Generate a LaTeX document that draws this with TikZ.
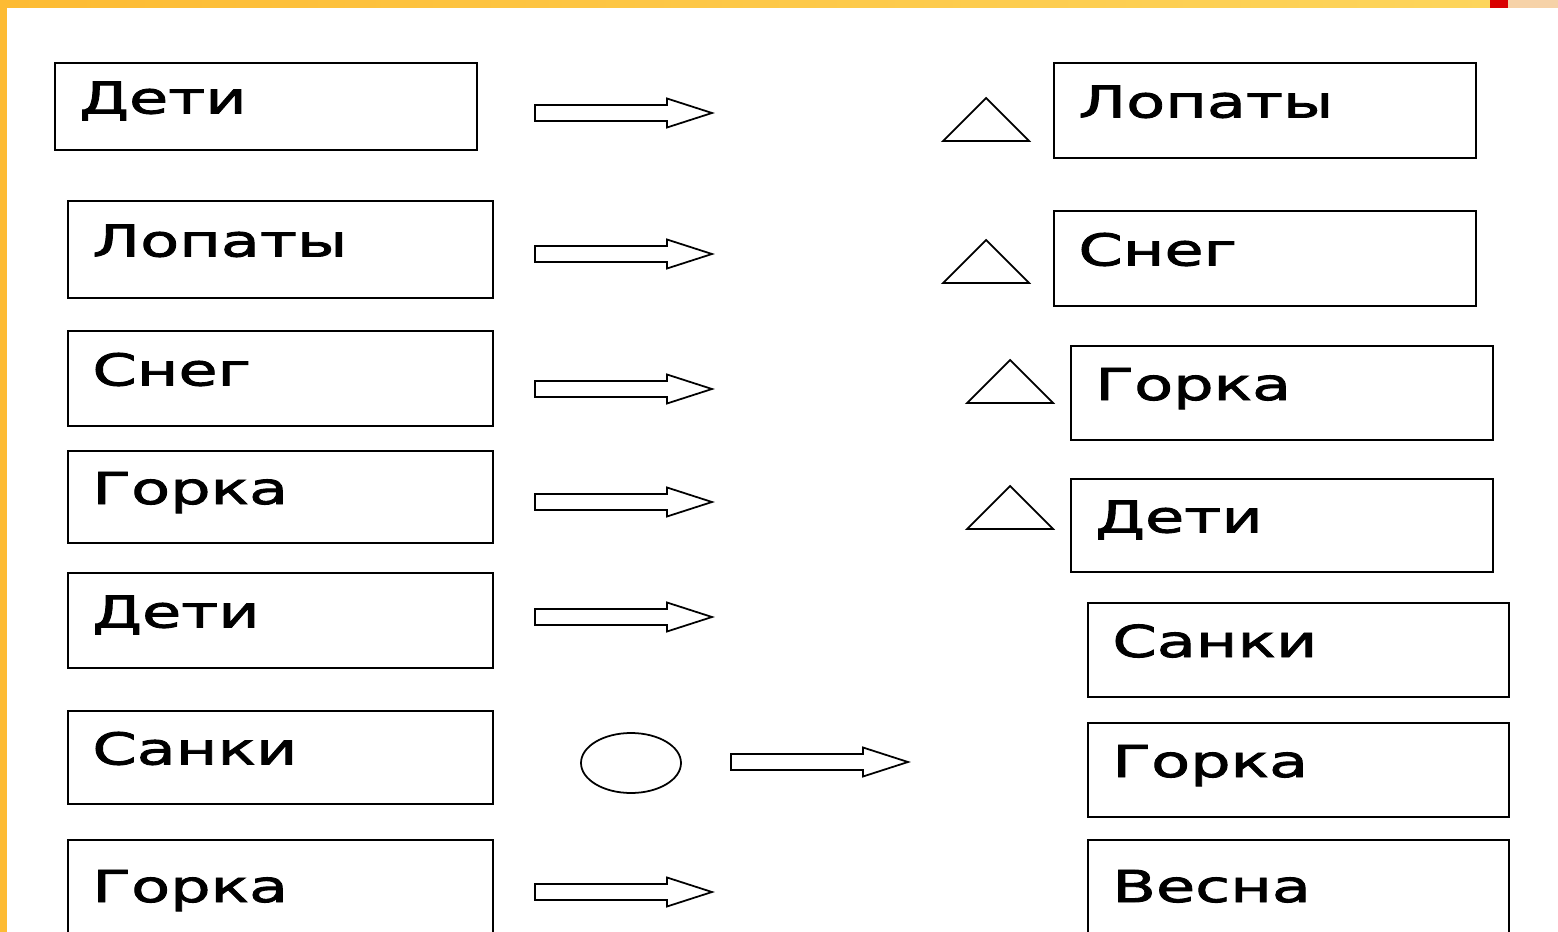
\documentclass[tikz,border=0pt]{standalone}
\usepackage{fontspec}
\newfontfamily\wordfont[FakeStretch=1.45,FakeBold=2]{DejaVu Sans}
\definecolor{frameorange}{HTML}{FDBB33}
\definecolor{frameyellow}{HTML}{FDD65E}
\definecolor{skin}{HTML}{F6D2A8}
\tikzset{
  box/.style={line width=1.1pt},
  word/.style={anchor=base west, inner sep=0pt, font=\wordfont\fontsize{25}{30}\selectfont},
  hollow/.style={line width=1pt, fill=white},
}
% box with a word: name, x1, y1, x2, y2, word
\newcommand{\wordbox}[6]{%
  \draw[box] (#2,#3) rectangle (#4,#5);
  \node[word] (#1) at ({#2+24},{(#3+#5)/2+7}) {#6};
}
% hollow block arrow: tip x, middle y
\newcommand{\blockarrow}[2]{%
  \draw[hollow] (#1-177,#2-8) -- (#1-45,#2-8) -- (#1-45,#2-14.5) -- (#1,#2)
    -- (#1-45,#2+14.5) -- (#1-45,#2+8) -- (#1-177,#2+8) -- cycle;
}
% triangle: left x, base y
\newcommand{\marktri}[2]{%
  \draw[hollow] (#1,#2) -- (#1+86,#2) -- (#1+43,#2-43) -- cycle;
}
\begin{document}
\begin{tikzpicture}[x=0.02cm, y=-0.02cm]
    \useasboundingbox (0,0) rectangle (1558,932);
    \clip (0,0) rectangle (1558,932);
    \fill[white] (0,0) rectangle (1558,932);
    % frame
    \shade[left color=frameorange, right color=frameyellow] (0,0) rectangle (1558,8);
    \fill[frameorange] (0,0) rectangle (7,932);
    \fill[red!85!black] (1490,0) rectangle (1508,8);
    \fill[skin] (1508,0) rectangle (1558,8);
    % left column
    \wordbox{l1}{55}{63}{477}{150}{Дети}
    \wordbox{l2}{68}{201}{493}{298}{Лопаты}
    \wordbox{l3}{68}{331}{493}{426}{Снег}
    \wordbox{l4}{68}{451}{493}{543}{Горка}
    \wordbox{l5}{68}{573}{493}{668}{Дети}
    \wordbox{l6}{68}{711}{493}{804}{Санки}
    \wordbox{l7}{68}{840}{493}{950}{Горка}
    % arrows
    \blockarrow{712}{113}
    \blockarrow{712}{254}
    \blockarrow{712}{389}
    \blockarrow{712}{502}
    \blockarrow{712}{617}
    \blockarrow{908}{762}
    \blockarrow{712}{892}
    \draw[hollow] (631,763) ellipse [x radius=50, y radius=30];
    % triangles
    \marktri{943}{141}
    \marktri{943}{283}
    \marktri{967}{403}
    \marktri{967}{529}
    % right column
    \wordbox{r1}{1054}{63}{1476}{158}{Лопаты}
    \wordbox{r2}{1054}{211}{1476}{306}{Снег}
    \wordbox{r3}{1071}{346}{1493}{440}{Горка}
    \wordbox{r4}{1071}{479}{1493}{572}{Дети}
    \wordbox{r5}{1088}{603}{1509}{697}{Санки}
    \wordbox{r6}{1088}{723}{1509}{817}{Горка}
    \wordbox{r7}{1088}{840}{1509}{950}{Весна}
\end{tikzpicture}
\end{document}
